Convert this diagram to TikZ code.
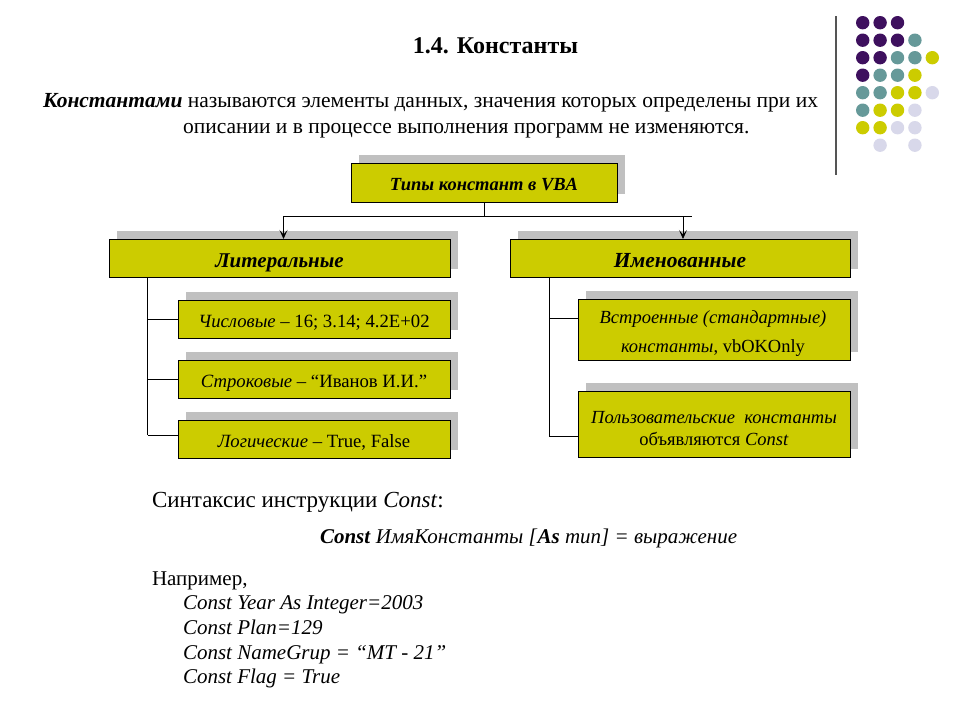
\documentclass[tikz,border=0pt]{standalone}
\usepackage{fontspec}
\setmainfont{Liberation Serif}
\usetikzlibrary{arrows.meta,positioning,calc}
\definecolor{boxfill}{RGB}{204,204,0}
\definecolor{shadowgray}{RGB}{192,192,192}
\definecolor{dotP}{RGB}{62,16,94}
\definecolor{dotT}{RGB}{102,153,153}
\definecolor{dotY}{RGB}{204,204,0}
\definecolor{dotL}{RGB}{216,216,234}
\definecolor{vline}{RGB}{85,85,85}
\def\emptymark{N}
\tikzset{
  cbox/.style={draw=black, line width=1pt, fill=boxfill, inner sep=0pt, outer sep=0pt},
  conn/.style={draw=black, line width=0.9pt},
  arr/.style={conn, -{Stealth[length=9pt,width=8pt,inset=4.5pt]}},
  dot/.style={circle, inner sep=0pt, minimum size=13.4pt, draw=none},
  txt/.style={inner sep=0pt, outer sep=0pt},
}
\begin{document}
\begin{tikzpicture}[x=1pt,y=-1pt]
\useasboundingbox (0,0) rectangle (960,720);
\fill[white] (0,0) rectangle (960,720);
% decoration: vertical line and dots
\draw[vline, line width=2pt] (835.7,16) -- (835.7,175);
\foreach \row/\cols in {1/{P,P,P,N,N},2/{P,P,P,T,N},3/{P,P,T,T,Y},4/{P,T,T,Y,N},5/{T,T,Y,Y,L},6/{T,Y,Y,L,N},7/{Y,Y,L,L,N},8/{N,L,N,L,N}}{
  \foreach \c [count=\i] in \cols {
    \ifx\c\emptymark\else
      \node[dot, fill=dot\c] (d\row-\i) at ({862.7+(\i-1)*17.4},{22.7+(\row-1)*17.5}) {};
    \fi
  }
}
% title
\node[txt, anchor=base, font=\bfseries\fontsize{24}{28}\selectfont] (title) at (495.5,53) {1.4. Константы};
% definition paragraph
\node[txt, anchor=base west, font=\fontsize{21.5}{25}\selectfont] (def1) at (43,107) {\textbf{\textit{Константами}} называются элементы данных, значения которых определены при их};
\node[txt, anchor=base west, font=\fontsize{21.5}{25}\selectfont] (def2) at (183,133.5) {описании и в процессе выполнения программ не изменяются.};
% boxes: shadows
\fill[shadowgray] (359,155) rectangle (625,194);
\fill[shadowgray] (117,231) rectangle (458,269);
\fill[shadowgray] (518,231) rectangle (858,269);
\fill[shadowgray] (186,292) rectangle (458,330);
\fill[shadowgray] (186,352) rectangle (458,390);
\fill[shadowgray] (186,412) rectangle (458,450);
\fill[shadowgray] (586,291) rectangle (858,352);
\fill[shadowgray] (586,383) rectangle (858,449);
% boxes
\node[cbox, text height=15.7pt, text depth=0pt, minimum width=266pt, minimum height=39pt, font=\bfseries\itshape\fontsize{18.5}{22}\selectfont] (types) at (484,182.5) {Типы констант в VBA};
\node[cbox, text height=18pt, text depth=0pt, minimum width=341pt, minimum height=38pt, font=\bfseries\itshape\fontsize{21}{24}\selectfont] (lit) at (279.5,258) {Литеральные};
\node[cbox, text height=18pt, text depth=0pt, minimum width=340pt, minimum height=38pt, font=\bfseries\itshape\fontsize{21.5}{24}\selectfont] (named) at (680,258) {Именованные};
\node[cbox, text height=16pt, text depth=0pt, minimum width=272pt, minimum height=38pt, font=\fontsize{18.7}{22}\selectfont] (num) at (314,319) {\textit{Числовые} – 16; 3.14; 4.2E+02};
\node[cbox, text height=16pt, text depth=0pt, minimum width=272pt, minimum height=38pt, font=\fontsize{18.7}{22}\selectfont] (str) at (314,379) {\textit{Строковые} – “Иванов И.И.”};
\node[cbox, text height=16pt, text depth=0pt, minimum width=272pt, minimum height=38pt, font=\fontsize{18.7}{22}\selectfont] (log) at (314,439) {\textit{Логические} – True, False};
\node[cbox, minimum width=272pt, minimum height=61pt] (builtin) at (714,329.5) {};
\node[txt, align=center, font=\fontsize{18.5}{29}\selectfont] (builtintxt) at (713,334) {\textit{Встроенные (стандартные)}\\\textit{константы}, vbOKOnly};
\node[cbox, minimum width=272pt, minimum height=66pt] (user) at (714,424) {};
\node[txt, align=center, font=\fontsize{18.5}{22}\selectfont] (usertxt) at (714,429) {\textit{Пользовательские\ \ константы}\\объявляются \textit{Const}};
% connectors
\coordinate (split) at (types.south |- 0,216);
\coordinate (leftc) at (283.5,216);
\coordinate (rightend) at (692,216);
\coordinate (rightc) at (683,216);
\draw[conn] (types.south) -- (split);
\draw[conn] (leftc) -- (rightend);
\draw[arr] (leftc) -- (leftc |- lit.north);
\draw[arr] (rightc) -- (rightc |- named.north);
% literal branch
\coordinate (lbus) at (147.5,0);
\draw[conn] (lbus |- lit.south) -- (lbus |- 0,435);
\draw[conn] (lbus |- num.west) -- (num.west);
\draw[conn] (lbus |- str.west) -- (str.west);
\draw[conn] (lbus |- 0,435) -- (log.west |- 0,435);
% named branch
\coordinate (nbus) at (549,0);
\draw[conn] (nbus |- named.south) -- (nbus |- 0,436);
\draw[conn] (nbus |- 0,318) -- (builtin.west |- 0,318);
\draw[conn] (nbus |- 0,436) -- (user.west |- 0,436);
% bottom text
\node[txt, anchor=base west, font=\fontsize{23}{26}\selectfont] (syn) at (152,507.5) {Синтаксис инструкции \textit{Const}:};
\node[txt, anchor=base west, font=\fontsize{21}{24}\selectfont] (syntax) at (320,543) {\textbf{\textit{Const}} \textit{ИмяКонстанты [}\textbf{\textit{As}} \textit{тип] = выражение}};
\node[txt, anchor=base west, font=\fontsize{21}{24}\selectfont] (ex) at (152,585) {Например,};
\node[txt, anchor=base west, font=\itshape\fontsize{21}{24}\selectfont] (ex1) at (183,609) {Const Year As Integer=2003};
\node[txt, anchor=base west, font=\itshape\fontsize{21}{24}\selectfont] (ex2) at (183,634) {Const Plan=129};
\node[txt, anchor=base west, font=\itshape\fontsize{21}{24}\selectfont] (ex3) at (183,659) {Const NameGrup = “MT - 21”};
\node[txt, anchor=base west, font=\itshape\fontsize{21}{24}\selectfont] (ex4) at (183,683.5) {Const Flag = True};
\end{tikzpicture}
\end{document}
